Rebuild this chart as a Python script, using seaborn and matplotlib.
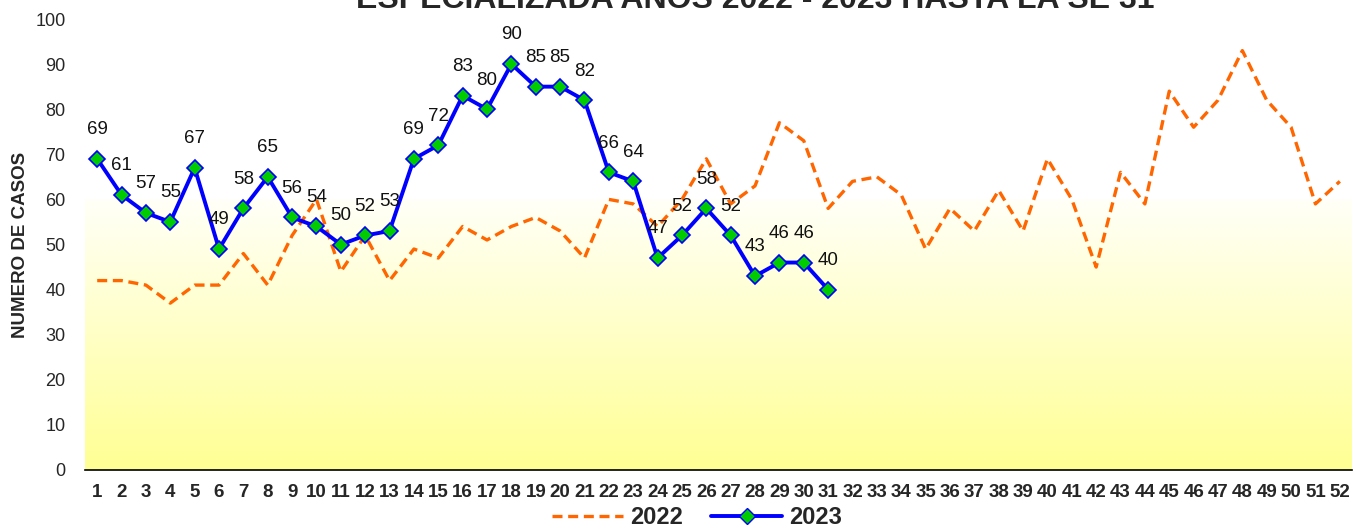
import numpy as np
import pandas as pd
import seaborn as sns
import matplotlib.pyplot as plt
from matplotlib.colors import LinearSegmentedColormap
from matplotlib.lines import Line2D

# Data (epidemiological weeks)
weeks = list(range(1, 53))
cases_2022 = [42, 42, 41, 37, 41, 41, 48, 41, 52, 60,
              44, 52, 42, 49, 47, 54, 51, 54, 56, 53,
              47, 60, 59, 54, 60, 69, 59, 63, 77, 73,
              58, 64, 65, 61, 49, 58, 53, 62, 53, 69,
              60, 45, 66, 59, 84, 76, 82, 93, 82, 76,
              59, 64]
cases_2023 = [69, 61, 57, 55, 67, 49, 58, 65, 56, 54,
              50, 52, 53, 69, 72, 83, 80, 90, 85, 85,
              82, 66, 64, 47, 52, 58, 52, 43, 46, 46,
              40]
title = "ESPECIALIZADA AÑOS 2022 - 2023 HASTA LA SE 31"

df22 = pd.DataFrame({"semana": weeks, "casos": cases_2022})
df23 = pd.DataFrame({"semana": weeks[:len(cases_2023)], "casos": cases_2023})

sns.set_style("white")
plt.rcParams['font.family'] = ['Liberation Sans', 'DejaVu Sans']

fig = plt.figure(figsize=(13.55, 5.28), dpi=100)
ax = fig.add_axes([85 / 1355, 1 - 470 / 528, (1352 - 85) / 1355, (470 - 19) / 528])

# gradient background (white -> pale yellow)
cmap = LinearSegmentedColormap.from_list("bg", ["#fffff8", "#ffff94"])
grad = np.linspace(0, 1, 256).reshape(-1, 1)
ax.imshow(grad, cmap=cmap, extent=(0.5, 52.5, 0, 60), aspect='auto', zorder=0,
          origin='upper')

sns.lineplot(data=df22, x="semana", y="casos", ax=ax, color="#ff6600",
             linewidth=2.4, zorder=2)
ax.lines[-1].set_dashes([3, 1.7])
sns.lineplot(data=df23, x="semana", y="casos", ax=ax, color="#0000ff",
             linewidth=2.8, marker="D", markersize=8,
             markerfacecolor="#00cc00", markeredgecolor="#0000ff",
             markeredgewidth=1.2, zorder=3)

for w, v in zip(df23["semana"], df23["casos"]):
    ax.annotate(str(v), (w, v), xytext=(0, 21), textcoords="offset points",
                ha="center", va="center", fontsize=13.5, color="#111111")

ax.set_xlim(0.5, 52.5)
ax.set_ylim(0, 100)
ax.set_xticks(weeks)
ax.set_xticklabels([str(w) for w in weeks], fontsize=13.5, fontweight="bold")
ax.set_yticks(range(0, 101, 10))
ax.tick_params(axis='y', labelsize=13, length=0, pad=14)
ax.tick_params(axis='x', length=0, pad=10)
ax.set_xlabel("")
ax.set_ylabel("NUMERO DE CASOS", fontsize=13.5, fontweight="bold")
ax.yaxis.set_label_coords((29 - 85) / 1267, 0.5)

for s in ["top", "right", "left"]:
    ax.spines[s].set_visible(False)
ax.spines["bottom"].set_color("black")
ax.spines["bottom"].set_linewidth(1.2)

fig.text(755 / 1355, 1 - 8 / 528, title, ha="center", va="baseline",
         fontsize=23, fontweight="bold")

handles = [
    Line2D([], [], color="#ff6600", linewidth=2.4, dashes=[3, 1.7]),
    Line2D([], [], color="#0000ff", linewidth=2.8, marker="D", markersize=8,
           markerfacecolor="#00cc00", markeredgecolor="#0000ff"),
]
fig.legend(handles, ["2022", "2023"], loc="center", ncol=2, frameon=False,
           bbox_to_anchor=(697 / 1355, 1 - 518 / 528), handlelength=3.0,
           columnspacing=1.2, handletextpad=0.3,
           prop={"size": 17, "weight": "bold"})

fig.savefig("out.png", dpi=100)
